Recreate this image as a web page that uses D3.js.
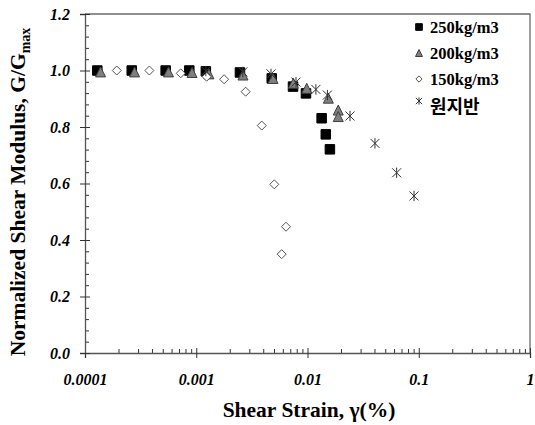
<!DOCTYPE html>
<meta charset="utf-8">
<title>Normalized Shear Modulus</title>
<style>
    body { margin: 0; background: #fff; }
    .tick text { font-family: "Liberation Serif", serif; font-weight: bold; font-style: italic; font-size: 16px; fill: #000; }
    .title { font-family: "Liberation Serif", serif; font-weight: bold; font-size: 21.5px; fill: #000; }
    .legend text { font-family: "Liberation Serif", serif; font-weight: bold; font-size: 16.5px; fill: #000; }
</style>
<body>
<div id="chart"></div>
<script src="https://d3js.org/d3.v7.min.js"></script>
<script>
// strain (%) and G/Gmax for each mix
var strain250 = [0.000129, 0.000263, 0.000531, 0.000866, 0.00122, 0.00247, 0.00477, 0.00741, 0.00969, 0.0134, 0.0146, 0.0159];
var g250 = [1.00, 1.00, 1.00, 1.00, 0.997, 0.993, 0.972, 0.943, 0.919, 0.831, 0.774, 0.721];

var strain200 = [0.000138, 0.000279, 0.000563, 0.000916, 0.0013, 0.00263, 0.0049, 0.00746, 0.00984, 0.0154, 0.0189, 0.0189];
var g200 = [0.995, 0.995, 0.995, 0.993, 0.988, 0.984, 0.972, 0.955, 0.937, 0.902, 0.860, 0.837];

var strain150 = [0.000193, 0.000379, 0.000725, 0.00124, 0.00178, 0.00278, 0.00388, 0.00503, 0.00641, 0.00586];
var g150 = [1.00, 1.00, 0.990, 0.978, 0.969, 0.925, 0.805, 0.597, 0.447, 0.350];

var strainSite = [0.00122, 0.00262, 0.0047, 0.00788, 0.0119, 0.0151, 0.0241, 0.0404, 0.0633, 0.0907];
var gSite = [0.998, 0.995, 0.988, 0.959, 0.933, 0.913, 0.839, 0.742, 0.638, 0.556];

var seriesNames = ["250kg/m3", "200kg/m3", "150kg/m3", "원지반"];
var xTicks = [0.0001, 0.001, 0.01, 0.1, 1];
var xTickLabels = ["0.0001", "0.001", "0.01", "0.1", "1"];
var yTicks = [0, 0.2, 0.4, 0.6, 0.8, 1.0, 1.2];

var width = 535, height = 425;
var margin = { top: 14, right: 5, bottom: 72, left: 85 };
var w = width - margin.left - margin.right,
    h = height - margin.top - margin.bottom;

var x = d3.scaleLog().domain([0.0001, 1]).range([0, w]);
var y = d3.scaleLinear().domain([0, 1.2]).range([h, 0]);

var svg = d3.select("#chart").append("svg")
    .attr("width", width)
    .attr("height", height);
var g = svg.append("g")
    .attr("transform", "translate(" + margin.left + "," + margin.top + ")");

// frame (top and right)
g.append("path")
    .attr("d", "M0,0H" + w + "V" + h)
    .attr("fill", "none")
    .attr("stroke", "#6b6b6b")
    .attr("stroke-width", 1.3);

// minor ticks
var xMinor = [];
[0.0001, 0.001, 0.01, 0.1].forEach(function (d) {
    for (var k = 2; k <= 9; k++) xMinor.push(d * k);
});
g.append("g")
    .attr("transform", "translate(0," + h + ")")
    .call(d3.axisTop(x).tickValues(xMinor).tickSize(4).tickFormat(""))
    .call(function (a) { a.select(".domain").remove(); a.selectAll("line").attr("stroke", "#333"); });

var yMinor = d3.range(0, 1.2001, 0.04).filter(function (v) { return Math.abs(v * 5 - Math.round(v * 5)) > 1e-6; });
g.append("g")
    .call(d3.axisRight(y).tickValues(yMinor).tickSize(4).tickFormat(""))
    .call(function (a) { a.select(".domain").remove(); a.selectAll("line").attr("stroke", "#333"); });

// x axis
var xAxis = g.append("g")
    .attr("transform", "translate(0," + h + ")")
    .call(d3.axisBottom(x).tickValues(xTicks).tickSize(5).tickPadding(16)
        .tickFormat(function (d, i) { return xTickLabels[i]; }));
xAxis.selectAll(".tick line").attr("y1", -5).attr("stroke", "#333");
xAxis.select(".domain").attr("stroke", "#555").attr("stroke-width", 1.3);

// y axis
var yAxis = g.append("g")
    .call(d3.axisLeft(y).tickValues(yTicks).tickSize(5).tickPadding(10).tickFormat(d3.format(".1f")));
yAxis.selectAll(".tick line").attr("x1", 5).attr("stroke", "#333");
yAxis.select(".domain").attr("stroke", "#555").attr("stroke-width", 1.3);

// axis titles
svg.append("text")
    .attr("class", "title")
    .attr("x", 309)
    .attr("y", 417)
    .attr("text-anchor", "middle")
    .text("Shear Strain, γ(%)");

var yt = svg.append("text")
    .attr("class", "title")
    .attr("transform", "translate(25,192) rotate(-90)")
    .attr("text-anchor", "middle");
yt.append("tspan").text("Normalized Shear Modulus, G/G");
yt.append("tspan").attr("dy", 5).attr("font-size", "14px").text("max");

// markers
var starPath = function (s) {
    var r = s / 2;
    return "M" + (-r) + "," + (-r) + "L" + r + "," + r +
        "M" + r + "," + (-r) + "L" + (-r) + "," + r +
        "M0," + (-r * 1.15) + "V" + (r * 1.15);
};
var diamondPath = function (s) {
    var r = s / 2;
    return "M0," + (-r) + "L" + r + ",0L0," + r + "L" + (-r) + ",0Z";
};
var trianglePath = function (s) {
    var r = s / 2;
    return "M0," + (-r) + "L" + r + "," + r + "L" + (-r) + "," + r + "Z";
};

var series = [
    { xs: strain250, ys: g250, shape: "square", size: 9.5, fill: "#000", stroke: "#000" },
    { xs: strain200, ys: g200, shape: "triangle", size: 10, fill: "#7f7f7f", stroke: "#404040" },
    { xs: strain150, ys: g150, shape: "diamond", size: 9, fill: "#fff", stroke: "#555" },
    { xs: strainSite, ys: gSite, shape: "star", size: 9, fill: "none", stroke: "#333" }
];

function shapePath(shape, s) {
    if (shape === "star") return starPath(s);
    if (shape === "diamond") return diamondPath(s);
    if (shape === "triangle") return trianglePath(s);
    return "M" + (-s / 2) + "," + (-s / 2) + "h" + s + "v" + s + "h" + (-s) + "Z";
}

series.forEach(function (s) {
    var pts = s.xs.map(function (v, i) { return [v, s.ys[i]]; });
    g.append("g").selectAll("path")
        .data(pts)
        .join("path")
        .attr("transform", function (d) { return "translate(" + x(d[0]) + "," + y(d[1]) + ")"; })
        .attr("d", shapePath(s.shape, s.size))
        .attr("fill", s.fill)
        .attr("stroke", s.stroke)
        .attr("stroke-width", 1);
});

// legend
var legend = svg.append("g").attr("class", "legend");
var legendY = [27, 53, 79, 101];
seriesNames.forEach(function (name, i) {
    var s = series[i];
    legend.append("path")
        .attr("transform", "translate(419," + legendY[i] + ")")
        .attr("d", shapePath(s.shape, s.size * 0.7))
        .attr("fill", s.fill)
        .attr("stroke", s.stroke);
    legend.append("text")
        .attr("x", 430)
        .attr("y", legendY[i] + (i === 3 ? 12 : 5.5))
        .style("font-family", i === 3 ? "'Noto Sans CJK KR', sans-serif" : null)
        .style("font-size", i === 3 ? "18px" : null)
        .text(name);
});
</script>
</body>
